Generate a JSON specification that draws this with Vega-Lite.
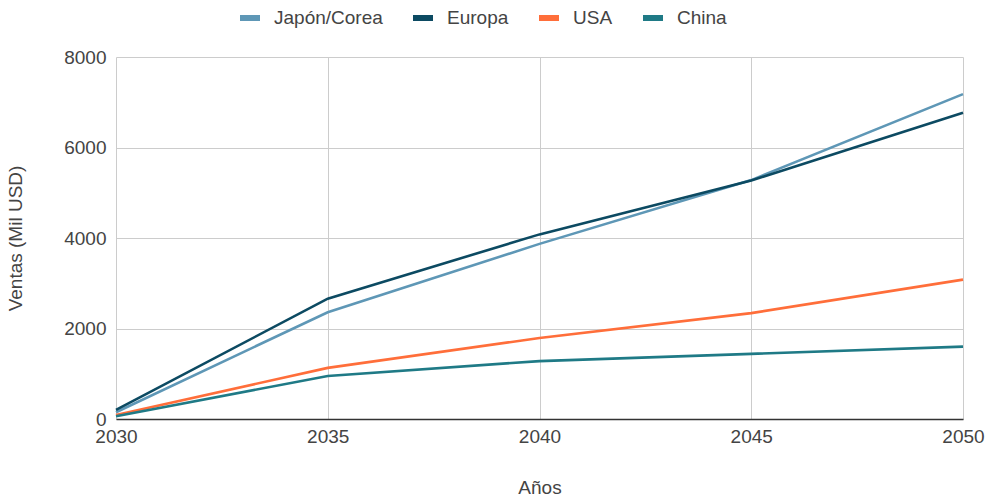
{
  "$schema": "https://vega.github.io/schema/vega-lite/v6.json",
  "width": 847,
  "height": 362,
  "autosize": "none",
  "padding": {"left": 116, "top": 57, "right": 27, "bottom": 80},
  "background": "white",
  "config": {
    "view": {"stroke": null},
    "font": "Liberation Sans",
    "axis": {"labelFont": "Liberation Sans", "titleFont": "Liberation Sans", "labelColor": "#444444", "titleColor": "#444444", "labelFontSize": 19, "titleFontSize": 19, "titleFontWeight": "normal", "gridColor": "#cccccc", "gridWidth": 1, "ticks": false},
    "legend": {"labelFont": "Liberation Sans", "labelFontSize": 19, "labelColor": "#444444"}
  },
  "data": {
    "values": [
      {"year": 2030, "region": "Japón/Corea", "value": 150},
      {"year": 2035, "region": "Japón/Corea", "value": 2360},
      {"year": 2040, "region": "Japón/Corea", "value": 3870},
      {"year": 2045, "region": "Japón/Corea", "value": 5280},
      {"year": 2050, "region": "Japón/Corea", "value": 7180},
      {"year": 2030, "region": "Europa", "value": 200},
      {"year": 2035, "region": "Europa", "value": 2660},
      {"year": 2040, "region": "Europa", "value": 4080},
      {"year": 2045, "region": "Europa", "value": 5270},
      {"year": 2050, "region": "Europa", "value": 6770},
      {"year": 2030, "region": "USA", "value": 90},
      {"year": 2035, "region": "USA", "value": 1130},
      {"year": 2040, "region": "USA", "value": 1790},
      {"year": 2045, "region": "USA", "value": 2340},
      {"year": 2050, "region": "USA", "value": 3080},
      {"year": 2030, "region": "China", "value": 60},
      {"year": 2035, "region": "China", "value": 950},
      {"year": 2040, "region": "China", "value": 1280},
      {"year": 2045, "region": "China", "value": 1440},
      {"year": 2050, "region": "China", "value": 1600}
    ]
  },
  "layer": [
    {
      "mark": {"type": "line", "strokeWidth": 2.6, "clip": false},
      "encoding": {
        "x": {
          "field": "year", "type": "quantitative",
          "scale": {"domain": [2030, 2050], "nice": false, "zero": false},
          "axis": {"values": [2030, 2035, 2040, 2045, 2050], "format": "d", "title": "Años", "grid": true, "domain": true, "domainColor": "#333333", "domainWidth": 1.5, "labelPadding": 8, "titlePadding": 32, "labelFlush": false}
        },
        "y": {
          "field": "value", "type": "quantitative",
          "scale": {"domain": [0, 8000], "nice": false},
          "axis": {"values": [0, 2000, 4000, 6000, 8000], "format": "d", "title": "Ventas (Mil USD)", "grid": true, "domain": false, "labelPadding": 10, "titlePadding": 38}
        },
        "color": {
          "field": "region", "type": "nominal",
          "sort": ["Japón/Corea", "Europa", "USA", "China"],
          "scale": {"domain": ["Japón/Corea", "Europa", "USA", "China"], "range": ["#5e97b6", "#0c4a62", "#ff6e3a", "#1f7a86"]},
          "legend": {"title": null, "orient": "none", "direction": "horizontal", "legendX": 121, "legendY": -52, "symbolType": "stroke", "symbolSize": 400, "symbolStrokeWidth": 6, "labelOffset": 11, "columnPadding": 18}
        }
      }
    }
  ]
}
